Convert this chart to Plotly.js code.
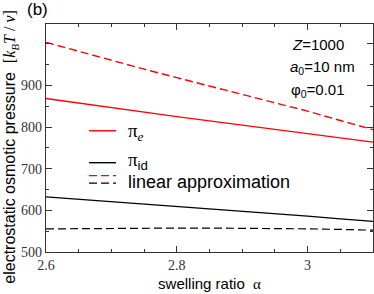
<!DOCTYPE html>
<html>
<head>
<meta charset="utf-8">
<script src="https://cdn.plot.ly/plotly-3.0.1.min.js"></script>
<style>html,body{margin:0;padding:0;background:#fff;}#chart{width:374px;height:294px;}</style>
</head>
<body>
<div id="chart"></div>
<script>
const alpha = [2.6, 2.65, 2.7, 2.75, 2.8, 2.85, 2.9, 2.95, 3.0, 3.05, 3.1];
const piE = [869, 857.7, 846.6, 835.7, 825.5, 815.3, 805.2, 795.2, 785.2, 775.2, 764];
const piE_lin = [1004, 982, 960.5, 939.5, 919, 898.5, 878.5, 858.5, 838.5, 816, 794];
const piId = [632.5, 626.9, 621.2, 615.5, 609.7, 603.9, 598, 592, 586, 579.8, 573.5];
const piId_lin = [555.5, 556.3, 556.9, 557.3, 557.5, 557.5, 557.2, 556.6, 555.7, 554.3, 552.5];
const yTickVals = [500, 600, 700, 800, 900, 1000];
const yTickText = ["500", "600", "700", "800", "900", ""];
const xTickVals = [2.6, 2.8, 3.0];
const xTickText = ["2.6", "2.8", "3"];

const RED = '#ff0000';
const serif = 'Liberation Serif';
const sans = 'Liberation Sans';

const traces = [
  {x: alpha, y: piE_lin, mode: 'lines', line: {color: RED, width: 1.4, dash: '8px,4px'}},
  {x: alpha, y: piE, mode: 'lines', line: {color: RED, width: 1.4}},
  {x: alpha, y: piId, mode: 'lines', line: {color: '#000', width: 1.2}},
  {x: alpha, y: piId_lin, mode: 'lines', line: {color: '#000', width: 1.2, dash: '8px,4px'}}
];

function px(v){ return (v - 46) / 326.7; }
function py(v){ return (252.5 - v) / 228.5; }

const legendRows = [
  {y: 131, color: RED, dash: 'solid'},
  {y: 163, color: '#000', dash: 'solid'},
  {y: 176, color: RED, dash: '8px,4px'},
  {y: 183.5, color: '#000', dash: '8px,4px'}
];
const shapes = legendRows.map(r => ({
  type: 'line', xref: 'paper', yref: 'paper',
  x0: px(89), x1: px(116), y0: py(r.y), y1: py(r.y),
  line: {color: r.color, width: 1.4, dash: r.dash}
}));

const annotations = [
  {text: '(b)', x: px(25), y: py(9), xanchor: 'left', yanchor: 'middle', font: {family: sans, size: 17, color: '#000'}},
  {text: '<i>Z</i>=1000', x: px(290), y: py(45), xanchor: 'left', yanchor: 'middle', font: {family: sans, size: 15, color: '#000'}},
  {text: '<i>a</i><sub>0</sub>=10 nm', x: px(288), y: py(68), xanchor: 'left', yanchor: 'middle', font: {family: sans, size: 15, color: '#000'}},
  {text: 'φ<sub>0</sub>=0.01', x: px(289), y: py(91), xanchor: 'left', yanchor: 'middle', font: {family: sans, size: 15, color: '#000'}},
  {text: 'π<sub><i>e</i></sub>', x: px(126), y: py(132), xanchor: 'left', yanchor: 'middle', font: {family: serif, size: 19, color: '#000'}},
  {text: 'π<sub><span style="font-family:Liberation Sans">id</span></sub>', x: px(126), y: py(161), xanchor: 'left', yanchor: 'middle', font: {family: serif, size: 19, color: '#000'}},
  {text: 'linear approximation', x: px(126), y: py(182), xanchor: 'left', yanchor: 'middle', font: {family: sans, size: 18, color: '#000'}},
  {text: 'electrostatic osmotic pressure  <span style="font-family:Liberation Serif">[<i>k</i><sub><i>B</i></sub><i>T</i> / <i>v</i>]</span>',
   x: px(11), y: py(147), xanchor: 'center', yanchor: 'middle', textangle: -90, font: {family: sans, size: 16, color: '#000'}}
].map(a => Object.assign({xref: 'paper', yref: 'paper', showarrow: false}, a));

const layout = {
  width: 374, height: 294,
  margin: {l: 46, r: 1, t: 24, b: 42, pad: 0},
  paper_bgcolor: '#fff', plot_bgcolor: '#fff',
  showlegend: false,
  xaxis: {
    range: [2.6, 3.1], tickvals: xTickVals, ticktext: xTickText,
    ticks: 'inside', ticklen: 6, tickcolor: '#333', tickwidth: 1,
    showline: true, linecolor: '#333', linewidth: 1.2, mirror: 'allticks',
    showgrid: false, zeroline: false,
    tickfont: {family: serif, size: 14, color: '#333'},
    minor: {dtick: 0.05, ticks: 'inside', ticklen: 3, tickcolor: '#333', showgrid: false},
    title: {text: 'swelling ratio  <span style="font-family:Liberation Serif">α</span>', font: {family: sans, size: 15, color: '#000'}, standoff: 6}
  },
  yaxis: {
    range: [500, 1048], tickvals: yTickVals, ticktext: yTickText,
    ticks: 'inside', ticklen: 6, tickcolor: '#333', tickwidth: 1,
    showline: true, linecolor: '#333', linewidth: 1.2, mirror: 'allticks',
    showgrid: false, zeroline: false,
    tickfont: {family: serif, size: 14, color: '#333'},
    minor: {dtick: 50, ticks: 'inside', ticklen: 3, tickcolor: '#333', showgrid: false}
  },
  shapes: shapes,
  annotations: annotations
};

Plotly.newPlot('chart', traces, layout, {displayModeBar: false, staticPlot: true});
</script>
</body>
</html>
